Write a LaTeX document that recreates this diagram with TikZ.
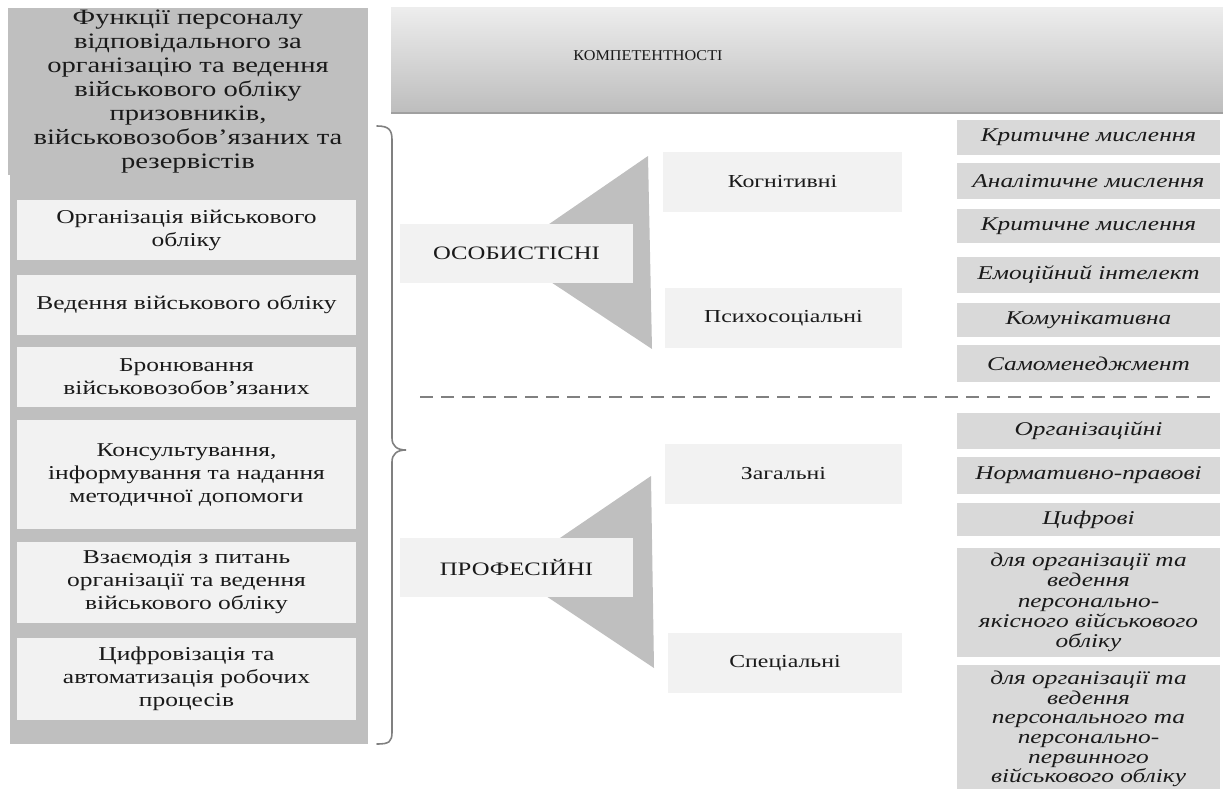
\documentclass[tikz,border=0pt]{standalone}
\usepackage{fontspec}
\setmainfont{Liberation Serif}[FakeStretch=1.3]
\newfontfamily\plainserif{Liberation Serif}[FakeStretch=1.08]
\definecolor{panel}{HTML}{BFBFBF}
\definecolor{light}{HTML}{F2F2F2}
\definecolor{mid}{HTML}{D9D9D9}
\definecolor{bracec}{HTML}{808080}
\definecolor{hdrtop}{HTML}{EDEDED}
\definecolor{hdrbot}{HTML}{BDBDBD}
\definecolor{hdrline}{HTML}{A0A0A0}
\definecolor{ink}{HTML}{1A1A1A}
\begin{document}
\begin{tikzpicture}[x=1pt,y=-1pt,
  every node/.style={inner sep=0pt, outer sep=0pt, text=ink},
  lbox/.style={fill=light, align=center, minimum width=339, font=\fontsize{19.6}{23}\selectfont},
  mbox/.style={fill=light, align=center, font=\fontsize{18.3}{22}\selectfont},
  rbox/.style={fill=mid, align=center, minimum width=263, font=\fontsize{19.5}{20.3}\selectfont\itshape},
  tri/.style={fill=panel},
  bracepath/.style={draw=bracec, line width=1.6, line cap=round},
  sepline/.style={draw=bracec, line width=1.5, dash pattern=on 13pt off 8pt}
]
\useasboundingbox (0,0) rectangle (1223,789);
\clip (0,0) rectangle (1223,789);

% left panel
\fill[panel] (10,160) rectangle (368,744);
\node[fill=panel, minimum width=360, minimum height=167, align=center,
      font=\fontsize{22}{24}\selectfont] (fhead) at (188,91.5)
  {Функції персоналу\\відповідального за\\організацію та ведення\\військового обліку\\призовників,\\військовозобов’язаних та\\резервістів};
\node[lbox, minimum height=60] (b1) at (186.5,230) {Організація військового\\обліку};
\node[lbox, minimum height=60] (b2) at (186.5,305) {Ведення військового обліку};
\node[lbox, minimum height=60] (b3) at (186.5,377) {Бронювання\\військовозобов’язаних};
\node[lbox, minimum height=109] (b4) at (186.5,474.5) {Консультування,\\інформування та надання\\методичної допомоги};
\node[lbox, minimum height=81] (b5) at (186.5,582.5) {Взаємодія з питань\\організації та ведення\\військового обліку};
\node[lbox, minimum height=82] (b6) at (186.5,679) {Цифровізація та\\автоматизація робочих\\процесів};

% brace
\coordinate (bt) at (377,126);
\coordinate (bm) at (406,450);
\coordinate (bb) at (377,744);
\draw[bracepath] (bt) .. controls (389,126) and (392,130) .. (392,140) -- (392,438)
  .. controls (392,446) and (397,450) .. (bm)
  .. controls (397,450) and (392,454) .. (392,462) -- (392,732)
  .. controls (392,742) and (389,744) .. (bb);

% header
\node[top color=hdrtop, bottom color=hdrbot, minimum width=832, minimum height=105] (komp) at (807,60.5) {};
\draw[hdrline, line width=2] (komp.south west) -- (komp.south east);
\node[font=\plainserif\fontsize{15}{18}\selectfont] (kompt) at (648,56) {КОМПЕТЕНТНОСТІ};

% triangles
\fill[tri] (507,253) -- (648,156) -- (652,349) -- cycle;
\fill[tri] (510,572) -- (651,476) -- (654,668) -- cycle;

% middle boxes
\node[mbox, minimum width=233, minimum height=59, font=\fontsize{19}{22}\selectfont] (osob) at (516.5,253.5) {ОСОБИСТІСНІ};
\node[mbox, minimum width=233, minimum height=59, font=\fontsize{19}{22}\selectfont] (prof) at (516.5,567.5) {ПРОФЕСІЙНІ};
\node[mbox, minimum width=239, minimum height=60] (kog) at (782.5,182) {Когнітивні};
\node[mbox, minimum width=237, minimum height=60] (psy) at (783.5,318) {Психосоціальні};
\node[mbox, minimum width=237, minimum height=60] (zag) at (783.5,474) {Загальні};
\node[mbox, minimum width=234, minimum height=60] (spec) at (785,663) {Спеціальні};

% separator
\coordinate (dl) at (420,397);
\coordinate (dr) at (1217,397);
\draw[sepline] (dl) -- (dr);

% right boxes
\node[rbox, minimum height=35] (r1) at (1088.5,137.5) {Критичне мислення};
\node[rbox, minimum height=36] (r2) at (1088.5,181) {Аналітичне мислення};
\node[rbox, minimum height=34] (r3) at (1088.5,226) {Критичне  мислення};
\node[rbox, minimum height=36] (r4) at (1088.5,275) {Емоційний інтелект};
\node[rbox, minimum height=34] (r5) at (1088.5,320) {Комунікативна};
\node[rbox, minimum height=37] (r6) at (1088.5,363.5) {Самоменеджмент};
\node[rbox, minimum height=36] (r7) at (1088.5,431) {Організаційні};
\node[rbox, minimum height=37] (r8) at (1088.5,475.5) {Нормативно-правові};
\node[rbox, minimum height=33] (r9) at (1088.5,519.5) {Цифрові};
\node[rbox, minimum height=109] (r10) at (1088.5,602.5) {для організації та\\ведення\\персонально-\\якісного військового\\обліку};
\node[rbox, minimum height=128, font=\fontsize{19.5}{19.6}\selectfont\itshape] (r11) at (1088.5,729) {для організації та\\ведення\\персонального та\\персонально-\\первинного\\військового обліку};
\end{tikzpicture}
\end{document}
